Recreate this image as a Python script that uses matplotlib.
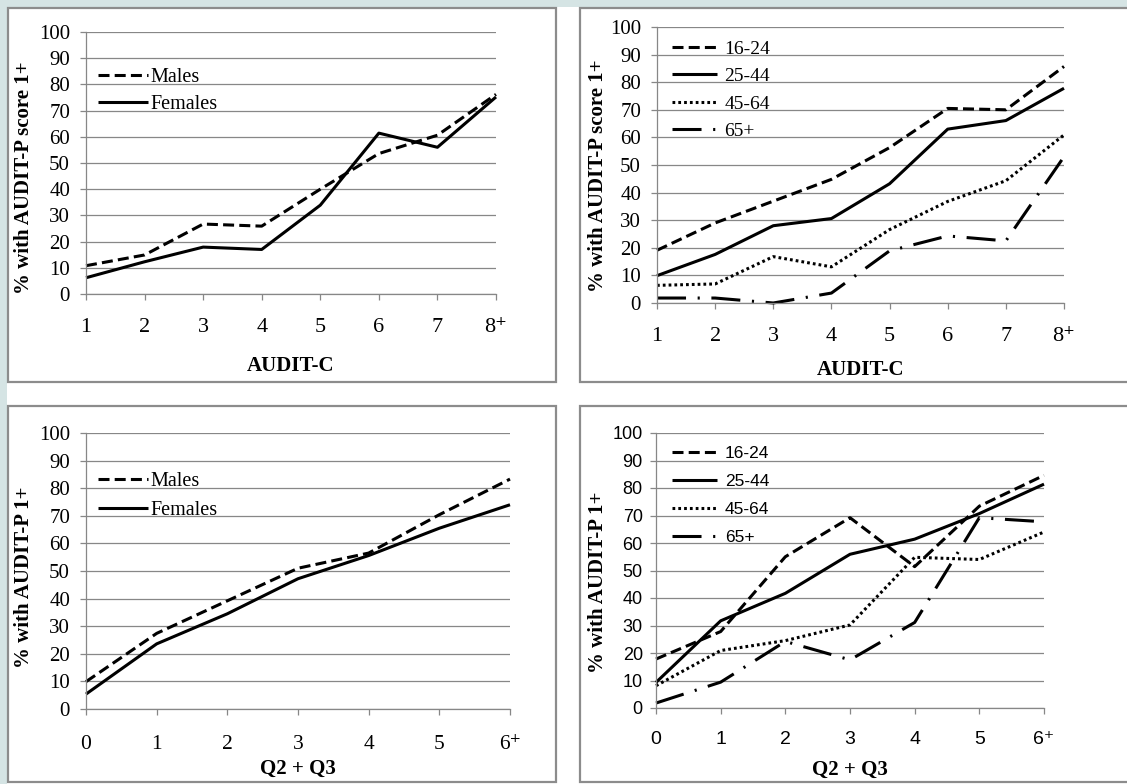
import numpy as np
import matplotlib
matplotlib.use('Agg')
import matplotlib.pyplot as plt
from matplotlib.patches import Rectangle

W, H = 1127, 784

# x categories
audit_c = ['1', '2', '3', '4', '5', '6', '7', '8\u207a']
q2_q3 = ['0', '1', '2', '3', '4', '5', '6\u207a']

# AUDIT-C by sex
males_c = [10.8, 14.9, 26.7, 25.9, 40.0, 53.6, 60.6, 76.2]
females_c = [6.2, 12.3, 17.9, 17.0, 33.9, 61.4, 56.0, 75.2]

# AUDIT-C by age
age_labels = ['16-24', '25-44', '45-64', '65+']
c_16_24 = [19.1, 29.0, 36.9, 44.8, 56.3, 70.5, 70.0, 85.7]
c_25_44 = [9.9, 17.6, 28.0, 30.6, 43.2, 63.0, 66.1, 77.8]
c_45_64 = [6.4, 6.9, 16.8, 13.1, 26.6, 36.8, 44.3, 60.9]
c_65 = [1.8, 1.8, 0.0, 3.6, 18.9, 24.3, 22.5, 53.0]

# Q2 + Q3 by sex
males_q = [9.9, 27.4, 39.2, 51.0, 56.5, 70.4, 83.3]
females_q = [5.4, 23.6, 34.5, 47.2, 55.6, 65.5, 74.0]

# Q2 + Q3 by age
q_16_24 = [17.8, 27.8, 55.0, 69.2, 51.4, 73.4, 84.6]
q_25_44 = [9.3, 31.7, 41.7, 55.9, 61.4, 70.7, 81.4]
q_45_64 = [8.1, 20.9, 24.5, 30.2, 54.8, 54.0, 64.0]
q_65 = [1.8, 9.4, 24.2, 17.5, 31.1, 69.2, 67.7]

SERIF = ['Liberation Serif', 'DejaVu Serif']
SANS = ['Liberation Sans', 'DejaVu Sans']
GRAY = '#878787'

DASHED = (0, (3.6, 1.7))
SOLID = '-'
DOTTED = (0, (0.9, 1.0))
DASHDOT = (0, (9.5, 3.8, 0.7, 3.8))

plt.rcParams['font.family'] = SERIF

fig = plt.figure(figsize=(W / 100, H / 100), dpi=100)
fig.patch.set_facecolor('white')

# light band along the top and left edge
fig.patches.append(Rectangle((0, 1 - 7 / H), 1, 7 / H, transform=fig.transFigure,
                             facecolor='#d5e4e4', edgecolor='none', zorder=-2))
fig.patches.append(Rectangle((0, 0), 7 / W, 1, transform=fig.transFigure,
                             facecolor='#d5e4e4', edgecolor='none', zorder=-2))

# panel frames (pixels: x0, y0, x1, y1)
for x0, y0, x1, y1 in [(8, 8, 556, 382), (580, 8, 1140, 382),
                       (8, 406, 556, 782), (580, 406, 1140, 782)]:
    fig.patches.append(Rectangle((x0 / W, 1 - y1 / H), (x1 - x0) / W, (y1 - y0) / H,
                                 transform=fig.transFigure, facecolor='white',
                                 edgecolor='#8c8c8c', linewidth=1.6, zorder=-1))


def fx(px):
    return px / W


def fy(py):
    return 1 - py / H


def panel(box, cats, series, labels, styles, xlabel, ylabel, tick_family,
          ytick_fs, xtick_fs, leg_fs, leg_xy, leg_space, hlen, hpad,
          ylab_xy, xlab_y, xpad, ypad):
    x0, y0, x1, y1 = box
    ax = fig.add_axes([fx(x0), fy(y1), (x1 - x0) / W, (y1 - y0) / H])
    ax.set_facecolor('none')
    x = np.arange(len(cats))
    for vals, lab, ls in zip(series, labels, styles):
        ax.plot(x, vals, color='black', lw=2.2, linestyle=ls, label=lab,
                solid_capstyle='butt', dash_capstyle='butt', clip_on=False)
    ax.set_xlim(0, len(cats) - 1)
    ax.set_ylim(0, 100)
    ax.set_yticks(np.arange(0, 101, 10))
    ax.set_xticks(x)
    ax.set_xticklabels(cats)
    ax.grid(axis='y', color=GRAY, lw=0.9)
    ax.set_axisbelow(True)
    for s in ['top', 'right']:
        ax.spines[s].set_visible(False)
    for s in ['left', 'bottom']:
        ax.spines[s].set_color(GRAY)
        ax.spines[s].set_linewidth(0.9)
    ax.tick_params(axis='y', length=4.5, width=0.9, color=GRAY, pad=ypad,
                   labelsize=ytick_fs, labelfontfamily=tick_family)
    ax.tick_params(axis='x', length=4.5, width=0.9, color=GRAY, pad=xpad,
                   labelsize=xtick_fs, labelfontfamily=tick_family)
    ax.set_xlabel(xlabel, fontsize=15, fontweight='bold', family=SERIF)
    ax.set_ylabel(ylabel, fontsize=15, fontweight='bold', family=SERIF)
    ax.yaxis.set_label_coords(fx(ylab_xy[0]), fy(ylab_xy[1]), transform=fig.transFigure)
    ax.xaxis.set_label_coords(fx((x0 + x1) / 2), fy(xlab_y), transform=fig.transFigure)
    ax.legend(loc='upper left', bbox_to_anchor=(fx(leg_xy[0]), fy(leg_xy[1])),
              bbox_transform=fig.transFigure, frameon=False, borderpad=0,
              borderaxespad=0, handlelength=hlen, handletextpad=hpad,
              labelspacing=leg_space, prop={'family': tick_family, 'size': leg_fs})
    return ax


panel((86, 32, 496, 294), audit_c, [males_c, females_c], ['Males', 'Females'],
      [DASHED, SOLID], 'AUDIT-C', '% with AUDIT-P score 1+', SERIF,
      15, 16, 14.5, (98, 68), 0.4, 2.5, 0.1, (34, 178), 356, 13, 7)

panel((657, 27, 1064, 303), audit_c, [c_16_24, c_25_44, c_45_64, c_65], age_labels,
      [DASHED, SOLID, DOTTED, DASHDOT], 'AUDIT-C', '% with AUDIT-P score 1+', SERIF,
      15, 16, 14, (672, 40), 0.51, 2.3, 0.4, (608, 176), 360, 13, 7)

panel((86, 433, 510, 709), q2_q3, [males_q, females_q], ['Males', 'Females'],
      [DASHED, SOLID], 'Q2 + Q3', '% with AUDIT-P 1+', SERIF,
      15, 15.5, 14.5, (98, 472), 0.5, 2.5, 0.1, (34, 577), 759, 14, 7)

panel((656, 433, 1044, 708), q2_q3, [q_16_24, q_25_44, q_45_64, q_65], age_labels,
      [DASHED, SOLID, DOTTED, DASHDOT], 'Q2 + Q3', '% with AUDIT-P 1+', SANS,
      13, 14, 12.5, (672, 446), 0.73, 2.6, 0.45, (608, 582), 760, 12, 5)

fig.savefig('out.png', dpi=100)
